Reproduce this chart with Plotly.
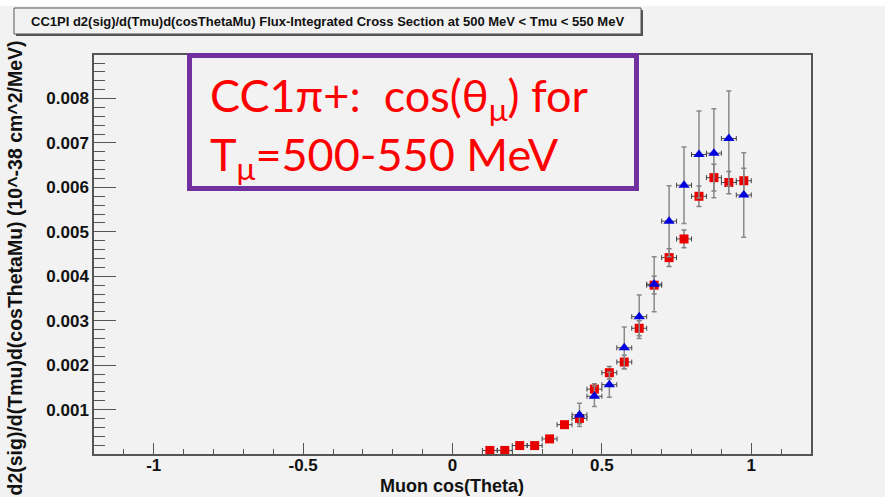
import plotly.graph_objects as go

# Bin centres in muon cos(theta), half bin width
bin_centres = [0.125, 0.175, 0.225, 0.275, 0.325, 0.375, 0.425, 0.475, 0.525,
               0.575, 0.625, 0.675, 0.725, 0.775, 0.825, 0.875, 0.925, 0.975]
bin_half_width = 0.025

# Red squares: cross section (10^-38 cm^2/MeV) and its uncertainty
red_values = [0.00008, 0.00008, 0.00019, 0.00019, 0.00034, 0.00066, 0.00080, 0.00146, 0.00183,
              0.00207, 0.00283, 0.00380, 0.00442, 0.00484, 0.00580, 0.00622, 0.00611, 0.00615]
red_errors = [0.00003, 0.00003, 0.00004, 0.00004, 0.00005, 0.00006, 0.00012, 0.00012, 0.00014,
              0.00015, 0.00017, 0.00020, 0.00020, 0.00020, 0.00023, 0.00030, 0.00025, 0.00028]

# Blue triangles start at the 0.425 bin
blue_centres = bin_centres[6:]
blue_values = [0.00088, 0.00130, 0.00156, 0.00239, 0.00309, 0.00382,
               0.00524, 0.00605, 0.00674, 0.00677, 0.00710, 0.00583]
blue_errors = [0.00026, 0.00023, 0.00028, 0.00047, 0.00049, 0.00062,
               0.00080, 0.00086, 0.00098, 0.00100, 0.00107, 0.00095]

x_tick_vals = [-1, -0.5, 0, 0.5, 1]
x_tick_text = ["-1", "-0.5", "0", "0.5", "1"]
y_tick_vals = [0.001, 0.002, 0.003, 0.004, 0.005, 0.006, 0.007, 0.008]
y_tick_text = ["0.001", "0.002", "0.003", "0.004", "0.005", "0.006", "0.007", "0.008"]

title_text = "CC1PI d2(sig)/d(Tmu)d(cosThetaMu) Flux-Integrated Cross Section at 500 MeV < Tmu < 550 MeV"
x_title = "Muon cos(Theta)"
y_title = "d2(sig)/d(Tmu)d(cosThetaMu) (10^-38 cm^2/MeV)"
box_text = "CC1\u03c0+:  cos(\u03b8<sub>\u03bc</sub>) for<br>T<sub>\u03bc</sub>=500-550 MeV"

W, H = 885, 497
L, R, T, B = 94, 811, 55, 454
BG = "#f2f2f2"
FONT = "Liberation Sans, Arial, sans-serif"


def px_x(p):
    return (p - L) / (R - L)


def px_y(p):
    return (B - p) / (B - T)


fig = go.Figure()

fig.add_trace(go.Scatter(
    x=bin_centres, y=red_values, mode="markers",
    marker=dict(symbol="square", size=9, color="#e80000"),
    error_x=dict(type="constant", value=bin_half_width, color="#444444", thickness=1, width=2.5),
    error_y=dict(type="data", array=red_errors, color="#808080", thickness=1.5, width=2.5),
    showlegend=False,
))
fig.add_trace(go.Scatter(
    x=blue_centres, y=blue_values, mode="markers",
    marker=dict(symbol="triangle-up", size=10, color="#0000dd"),
    error_x=dict(type="constant", value=bin_half_width, color="#444444", thickness=1, width=2.5),
    error_y=dict(type="data", array=blue_errors, color="#8a8a8a", thickness=1.5, width=2.5),
    showlegend=False,
))

axis_common = dict(
    showgrid=False, zeroline=False, showline=True, linecolor="#555555", linewidth=1.5,
    mirror=True, ticks="inside", tickcolor="#555555", tickwidth=1, automargin=False,
    tickfont=dict(family=FONT, size=17, color="#111111", weight="bold"),
)

fig.update_xaxes(
    range=[-1.2, 1.2], tickvals=x_tick_vals, ticktext=x_tick_text, ticklen=11,
    ticklabelstandoff=-5,
    minor=dict(dtick=0.1, ticklen=5.5, ticks="inside", tickcolor="#555555"),
    **axis_common,
)
fig.update_yaxes(
    range=[0, 0.00898], tickvals=y_tick_vals, ticktext=y_tick_text, ticklen=22,
    minor=dict(dtick=0.0002, ticklen=11, ticks="inside", tickcolor="#555555"),
    **axis_common,
)

shapes = [
    # white strip along the top of the canvas
    dict(type="rect", xref="paper", yref="paper", x0=px_x(0), x1=px_x(W), y0=px_y(6), y1=px_y(-2),
         fillcolor="white", line=dict(width=0), layer="above"),
    # title box shadow and box
    dict(type="rect", xref="paper", yref="paper", x0=px_x(16), x1=px_x(643), y0=px_y(36), y1=px_y(10),
         fillcolor="#555555", line=dict(width=0), layer="above"),
    dict(type="rect", xref="paper", yref="paper", x0=px_x(14), x1=px_x(641), y0=px_y(34), y1=px_y(8),
         fillcolor=BG, line=dict(color="#555555", width=1), layer="above"),
    # purple highlight box
    dict(type="rect", xref="paper", yref="paper", x0=px_x(189.5), x1=px_x(636.5), y0=px_y(188.5), y1=px_y(55.5),
         fillcolor=BG, line=dict(color="#7030a0", width=5), layer="above"),
]

annotations = [
    dict(text=title_text, xref="paper", yref="paper", x=px_x(327), y=px_y(21.5),
         xanchor="center", yanchor="middle", showarrow=False,
         font=dict(family=FONT, size=13, color="#111111", weight="bold")),
    dict(text=x_title, xref="paper", yref="paper", x=px_x(452), y=px_y(486),
         xanchor="center", yanchor="middle", showarrow=False,
         font=dict(family=FONT, size=18, color="#111111", weight="bold")),
    dict(text=y_title, xref="paper", yref="paper", x=px_x(14), y=px_y(39),
         xanchor="center", yanchor="top", textangle=-90, showarrow=False,
         font=dict(family=FONT, size=19.5, color="#111111", weight="bold")),
    dict(text=box_text, xref="paper", yref="paper", x=px_x(208), y=px_y(66),
         xanchor="left", yanchor="top", align="left", showarrow=False,
         font=dict(family="Lato, sans-serif", size=45, color="#ff0000")),
]

fig.update_layout(
    width=W, height=H,
    margin=dict(l=L, r=W - R, t=T, b=H - B),
    paper_bgcolor=BG, plot_bgcolor=BG,
    shapes=shapes, annotations=annotations,
)

fig.write_html("out.html")
